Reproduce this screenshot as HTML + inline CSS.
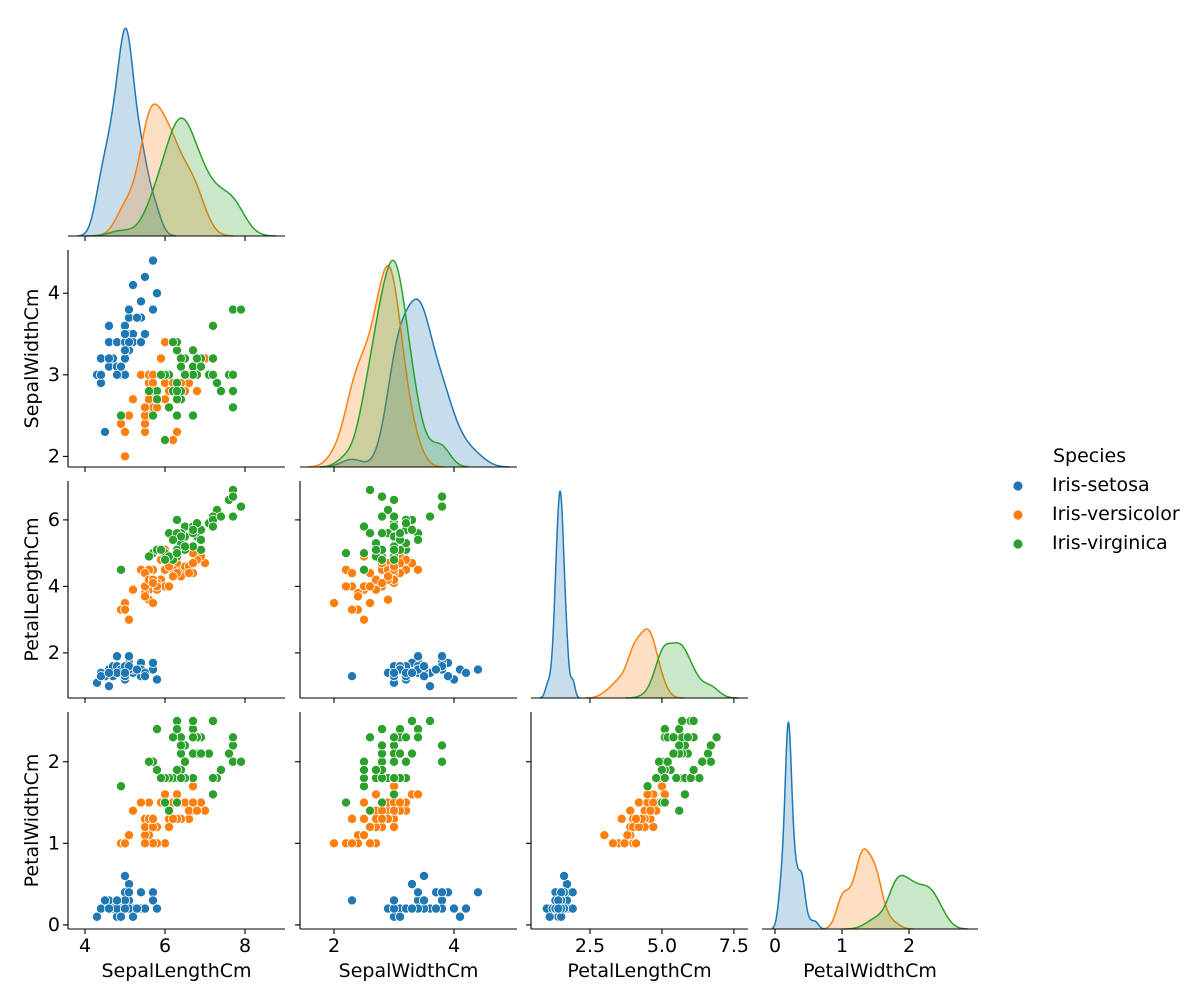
<!DOCTYPE html>
<html><head><meta charset="utf-8"><style>
html,body{margin:0;padding:0;background:#fff;}
svg{display:block;font-family:"DejaVu Sans","Liberation Sans",sans-serif;}
</style></head><body>
<svg id="chart" width="1201" height="1000" viewBox="0 0 1201 1000" xmlns="http://www.w3.org/2000/svg"></svg>
<script>
const species = ["Iris-setosa","Iris-versicolor","Iris-virginica"];
const colors = ["#1f77b4","#ff7f0e","#2ca02c"];
const varNames = ["SepalLengthCm","SepalWidthCm","PetalLengthCm","PetalWidthCm"];
const setosaSL=[5.1,4.9,4.7,4.6,5.0,5.4,4.6,5.0,4.4,4.9,5.4,4.8,4.8,4.3,5.8,5.7,5.4,5.1,5.7,5.1,5.4,5.1,4.6,5.1,4.8,5.0,5.0,5.2,5.2,4.7,4.8,5.4,5.2,5.5,4.9,5.0,5.5,4.9,4.4,5.1,5.0,4.5,4.4,5.0,5.1,4.8,5.1,4.6,5.3,5.0];
const setosaSW=[3.5,3.0,3.2,3.1,3.6,3.9,3.4,3.4,2.9,3.1,3.7,3.4,3.0,3.0,4.0,4.4,3.9,3.5,3.8,3.8,3.4,3.7,3.6,3.3,3.4,3.0,3.4,3.5,3.4,3.2,3.1,3.4,4.1,4.2,3.1,3.2,3.5,3.1,3.0,3.4,3.5,2.3,3.2,3.5,3.8,3.0,3.8,3.2,3.7,3.3];
const setosaPL=[1.4,1.4,1.3,1.5,1.4,1.7,1.4,1.5,1.4,1.5,1.5,1.6,1.4,1.1,1.2,1.5,1.3,1.4,1.7,1.5,1.7,1.5,1.0,1.7,1.9,1.6,1.6,1.5,1.4,1.6,1.6,1.5,1.5,1.4,1.5,1.2,1.3,1.5,1.3,1.5,1.3,1.3,1.3,1.6,1.9,1.4,1.6,1.4,1.5,1.4];
const setosaPW=[0.2,0.2,0.2,0.2,0.2,0.4,0.3,0.2,0.2,0.1,0.2,0.2,0.1,0.1,0.2,0.4,0.4,0.3,0.3,0.3,0.2,0.4,0.2,0.5,0.2,0.2,0.4,0.2,0.2,0.2,0.2,0.4,0.1,0.2,0.1,0.2,0.2,0.1,0.2,0.2,0.3,0.3,0.2,0.6,0.4,0.3,0.2,0.2,0.2,0.2];
const versicolorSL=[7.0,6.4,6.9,5.5,6.5,5.7,6.3,4.9,6.6,5.2,5.0,5.9,6.0,6.1,5.6,6.7,5.6,5.8,6.2,5.6,5.9,6.1,6.3,6.1,6.4,6.6,6.8,6.7,6.0,5.7,5.5,5.5,5.8,6.0,5.4,6.0,6.7,6.3,5.6,5.5,5.5,6.1,5.8,5.0,5.6,5.7,5.7,6.2,5.1,5.7];
const versicolorSW=[3.2,3.2,3.1,2.3,2.8,2.8,3.3,2.4,2.9,2.7,2.0,3.0,2.2,2.9,2.9,3.1,3.0,2.7,2.2,2.5,3.2,2.8,2.5,2.8,2.9,3.0,2.8,3.0,2.9,2.6,2.4,2.4,2.7,2.7,3.0,3.4,3.1,2.3,3.0,2.5,2.6,3.0,2.6,2.3,2.7,3.0,2.9,2.9,2.5,2.8];
const versicolorPL=[4.7,4.5,4.9,4.0,4.6,4.5,4.7,3.3,4.6,3.9,3.5,4.2,4.0,4.7,3.6,4.4,4.5,4.1,4.5,3.9,4.8,4.0,4.9,4.7,4.3,4.4,4.8,5.0,4.5,3.5,3.8,3.7,3.9,5.1,4.5,4.5,4.7,4.4,4.1,4.0,4.4,4.6,4.0,3.3,4.2,4.2,4.2,4.3,3.0,4.1];
const versicolorPW=[1.4,1.5,1.5,1.3,1.5,1.3,1.6,1.0,1.3,1.4,1.0,1.5,1.0,1.4,1.3,1.4,1.5,1.0,1.5,1.1,1.8,1.3,1.5,1.2,1.3,1.4,1.4,1.7,1.5,1.0,1.1,1.0,1.2,1.6,1.5,1.6,1.5,1.3,1.3,1.3,1.2,1.4,1.2,1.0,1.3,1.2,1.3,1.3,1.1,1.3];
const virginicaSL=[6.3,5.8,7.1,6.3,6.5,7.6,4.9,7.3,6.7,7.2,6.5,6.4,6.8,5.7,5.8,6.4,6.5,7.7,7.7,6.0,6.9,5.6,7.7,6.3,6.7,7.2,6.2,6.1,6.4,7.2,7.4,7.9,6.4,6.3,6.1,7.7,6.3,6.4,6.0,6.9,6.7,6.9,5.8,6.8,6.7,6.7,6.3,6.5,6.2,5.9];
const virginicaSW=[3.3,2.7,3.0,2.9,3.0,3.0,2.5,2.9,2.5,3.6,3.2,2.7,3.0,2.5,2.8,3.2,3.0,3.8,2.6,2.2,3.2,2.8,2.8,2.7,3.3,3.2,2.8,3.0,2.8,3.0,2.8,3.8,2.8,2.8,2.6,3.0,3.4,3.1,3.0,3.1,3.1,3.1,2.7,3.2,3.3,3.0,2.5,3.0,3.4,3.0];
const virginicaPL=[6.0,5.1,5.9,5.6,5.8,6.6,4.5,6.3,5.8,6.1,5.1,5.3,5.5,5.0,5.1,5.3,5.5,6.7,6.9,5.0,5.7,4.9,6.7,4.9,5.7,6.0,4.8,4.9,5.6,5.8,6.1,6.4,5.6,5.1,5.6,6.1,5.6,5.5,4.8,5.4,5.6,5.1,5.1,5.9,5.7,5.2,5.0,5.2,5.4,5.1];
const virginicaPW=[2.5,1.9,2.1,1.8,2.2,2.1,1.7,1.8,1.8,2.5,2.0,1.9,2.1,2.0,2.4,2.3,1.8,2.2,2.3,1.5,2.3,2.0,2.0,1.8,2.1,1.8,1.8,1.8,2.1,1.6,1.9,2.0,2.2,1.5,1.4,2.3,2.4,1.8,1.8,2.1,2.4,2.3,1.9,2.3,2.5,2.3,1.9,2.0,2.3,1.8];
const xTicks = [[4,6,8],[2,4],[2.5,5.0,7.5],[0,1,2]];
const xTickLabels = [["4","6","8"],["2","4"],["2.5","5.0","7.5"],["0","1","2"]];
const yTicks = [null,[2,3,4],[2,4,6],[0,1,2]];
const yTickLabels = [null,["2","3","4"],["2","4","6"],["0","1","2"]];

const data = [
  [setosaSL,setosaSW,setosaPL,setosaPW],
  [versicolorSL,versicolorSW,versicolorPL,versicolorPW],
  [virginicaSL,virginicaSW,virginicaPL,virginicaPW]
];
// layout
const colL=[68,300,531,762], colR=[285,517,748,978];
const rowT=[18,250,481,712], rowB=[236,467,698,929];
const xDom=[[3.575,9.0],[1.433,5.05],[0.451,7.99],[-0.194,3.03]];
const yDom=[null,[1.87,4.53],[0.644,7.17],[-0.05,2.61]];
function sx(c,v){return colL[c]+(v-xDom[c][0])/(xDom[c][1]-xDom[c][0])*(colR[c]-colL[c]);}
function sy(r,v){return rowB[r]-(v-yDom[r][0])/(yDom[r][1]-yDom[r][0])*(rowB[r]-rowT[r]);}

const svg=document.getElementById('chart');
const NS="http://www.w3.org/2000/svg";
function mk(tag,attrs,parent){const e=document.createElementNS(NS,tag);for(const k in attrs)e.setAttribute(k,attrs[k]);(parent||svg).appendChild(e);return e;}
function txt(s,attrs,parent){const e=mk('text',attrs,parent);e.textContent=s;return e;}

function kde(arr,grid){
  const n=arr.length;const m=arr.reduce((a,b)=>a+b,0)/n;
  const sd=Math.sqrt(arr.reduce((a,b)=>a+(b-m)*(b-m),0)/(n-1));
  const bw=sd*Math.pow(n,-0.2);
  return grid.map(x=>{let s=0;for(const v of arr){const z=(x-v)/bw;s+=Math.exp(-0.5*z*z);}return s/(n*bw*Math.sqrt(2*Math.PI))/3;});
}
function bwOf(arr){const n=arr.length;const m=arr.reduce((a,b)=>a+b,0)/n;return Math.sqrt(arr.reduce((a,b)=>a+(b-m)*(b-m),0)/(n-1))*Math.pow(n,-0.2);}

for(let r=0;r<4;r++){
  for(let c=0;c<=r;c++){
    const g=mk('g',{});
    
    
    if(r===c){
      // diagonal KDE
      const curves=[];let ymax=0;
      for(let s=0;s<3;s++){
        const arr=data[s][c];const bw=bwOf(arr);
        const lo=Math.min(...arr)-3*bw, hi=Math.max(...arr)+3*bw;
        const grid=[];for(let i=0;i<200;i++)grid.push(lo+(hi-lo)*i/199);
        const d=kde(arr,grid);ymax=Math.max(ymax,...d);curves.push([grid,d]);
      }
      const top=ymax*1.05;
      const fy=v=>rowB[r]-v/top*(rowB[r]-rowT[r]);
      for(let s=0;s<3;s++){
        const [grid,d]=curves[s];
        let p='';grid.forEach((x,i)=>{p+=(i?'L':'M')+sx(c,x).toFixed(2)+','+fy(d[i]).toFixed(2);});
        const fill=mk('path',{d:p+'L'+sx(c,grid[199]).toFixed(2)+','+rowB[r]+'L'+sx(c,grid[0]).toFixed(2)+','+rowB[r]+'Z',fill:colors[s],'fill-opacity':0.25,stroke:'none'},g);
        
        
        const line=mk('path',{d:p,fill:'none',stroke:colors[s],'stroke-width':1.5},g);
        
        
      }
    } else {
      for(let s=0;s<3;s++){
        const xs=data[s][c], ys=data[s][r];
        for(let i=0;i<xs.length;i++){
          const pt=mk('circle',{cx:sx(c,xs[i]).toFixed(2),cy:sy(r,ys[i]).toFixed(2),r:4.6,fill:colors[s],stroke:'#fff','stroke-width':0.8},g);
          
          
        }
      }
      // left spine + y ticks
      mk('line',{x1:colL[c],y1:rowT[r],x2:colL[c],y2:rowB[r],stroke:'#000','stroke-width':1.1},g);
      yTicks[r].forEach((t,i)=>{
        const y=sy(r,t);
        mk('line',{x1:colL[c]-5,y1:y,x2:colL[c],y2:y,stroke:'#000','stroke-width':1.1},g);
        if(c===0){const tl=txt(yTickLabels[r][i],{x:colL[c]-8,y:y,'text-anchor':'end','dominant-baseline':'central','font-size':19},g);
          }
      });
    }
    // bottom spine + x ticks
    mk('line',{x1:colL[c],y1:rowB[r],x2:colR[c],y2:rowB[r],stroke:'#000','stroke-width':1.1},g);
    xTicks[c].forEach((t,i)=>{
      const x=sx(c,t);
      mk('line',{x1:x,y1:rowB[r],x2:x,y2:rowB[r]+5,stroke:'#000','stroke-width':1.1},g);
      if(r===3){const tl=txt(xTickLabels[c][i],{x:x,y:952,'text-anchor':'middle','font-size':19},g);
        }
    });
  }
}
// axis titles
for(let c=0;c<4;c++){
  const t=txt(varNames[c],{x:(colL[c]+colR[c])/2,y:977,'text-anchor':'middle','font-size':19});
  
  
}
for(let r=1;r<4;r++){
  const cy=(rowT[r]+rowB[r])/2;
  const t=txt(varNames[r],{x:32,y:cy,'text-anchor':'middle','dominant-baseline':'central','font-size':19,transform:'rotate(-90 32 '+cy+')'});
  
  
}
// legend
const lg=mk('g',{});


const lt=txt('Species',{x:1053,y:462,'font-size':19},lg);


for(let s=0;s<3;s++){
  const y=485+s*29;
  const e=mk('g',{},lg);
  
  
  mk('circle',{cx:1018,cy:y+1,r:5,fill:colors[s],stroke:'#fff','stroke-width':0.8},e);
  txt(species[s],{x:1052,y:y,'dominant-baseline':'central','font-size':19},e);
}
</script>
</body></html>
